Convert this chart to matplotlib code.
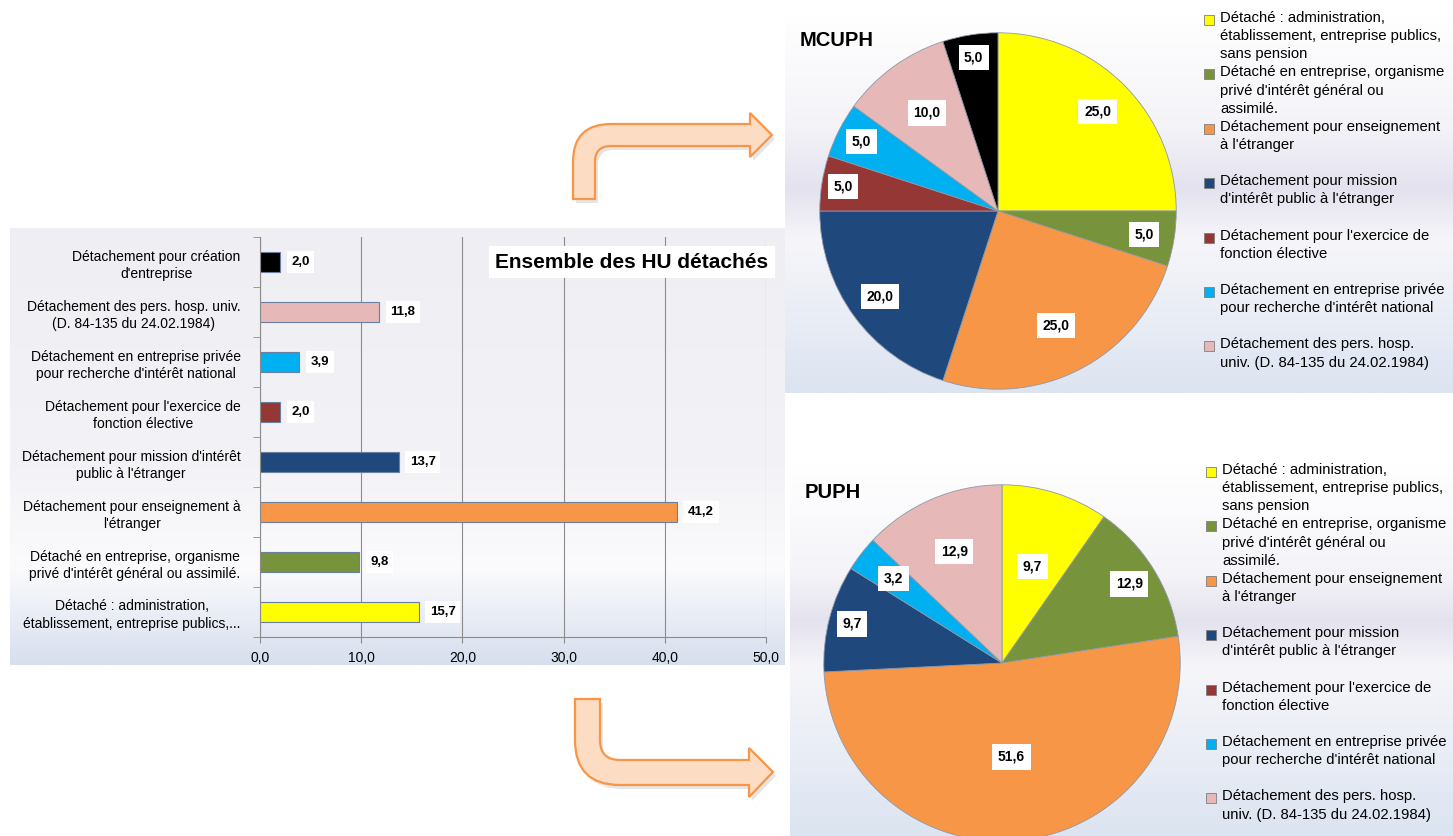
import numpy as np
import matplotlib.pyplot as plt
from matplotlib.path import Path
from matplotlib.patches import PathPatch, Rectangle
from matplotlib.colors import to_rgb

plt.rcParams['font.family'] = ['Liberation Sans Narrow', 'Liberation Sans', 'DejaVu Sans']

W, H = 1453, 836

# categories, bottom of the bar chart first (same order as the pie legends)
bar_labels = [
    "Détaché : administration,\nétablissement, entreprise publics,...",
    "Détaché en entreprise, organisme\nprivé d'intérêt général ou assimilé.",
    "Détachement pour enseignement à\nl'étranger",
    "Détachement pour mission d'intérêt\npublic à l'étranger",
    "Détachement pour l'exercice de\nfonction élective",
    "Détachement en entreprise privée\npour recherche d'intérêt national",
    "Détachement des pers. hosp. univ.\n(D. 84-135 du 24.02.1984)",
    "Détachement pour création\nd'entreprise",
]
legend_labels = [
    "Détaché : administration,\nétablissement, entreprise publics,\nsans pension",
    "Détaché en entreprise, organisme\nprivé d'intérêt général ou\nassimilé.",
    "Détachement pour enseignement\nà l'étranger",
    "Détachement pour mission\nd'intérêt public à l'étranger",
    "Détachement pour l'exercice de\nfonction élective",
    "Détachement en entreprise privée\npour recherche d'intérêt national",
    "Détachement des pers. hosp.\nuniv. (D. 84-135 du 24.02.1984)",
]
colors = ['#FFFF00', '#77933C', '#F79646', '#1F497D', '#953735', '#00B0F0', '#E6B9B8', '#000000']

ensemble = [15.7, 9.8, 41.2, 13.7, 2.0, 3.9, 11.8, 2.0]
mcuph = [25.0, 5.0, 25.0, 20.0, 5.0, 5.0, 10.0, 5.0]
puph = [9.7, 12.9, 51.6, 9.7, 0.0, 3.2, 12.9, 0.0]
x_ticks = [0, 10, 20, 30, 40, 50]


def fmt(v):
    return f"{v:.1f}".replace('.', ',')


fig = plt.figure(figsize=(14.53, 8.36), dpi=100)

# full-figure axes in pixel coordinates for backgrounds, arrows and legends
bg = fig.add_axes([0, 0, 1, 1], zorder=0)
bg.axis('off')


def panel(x0, y0, x1, y1, stops):
    pos = [s[0] for s in stops]
    cols = np.array([to_rgb(s[1]) for s in stops])
    t = np.linspace(0, 1, 256)
    img = np.stack([np.interp(t, pos, cols[:, k]) for k in range(3)], axis=-1)[:, None, :]
    bg.imshow(img, extent=(x0, x1, y1, y0), aspect='auto', interpolation='bilinear')


panel(10, 228, 785, 665, [(0, '#EEEEF3'), (0.55, '#F3F3F7'), (0.78, '#FBFBFD'), (1, '#D7DFEE')])
panel(785, 13, 1453, 393, [(0, '#FFFFFF'), (0.3, '#F4F3F8'), (0.46, '#E4E2EE'), (0.6, '#F6F6FA'), (1, '#DCE4F1')])
panel(790, 465, 1453, 836, [(0, '#FFFFFF'), (0.3, '#F4F3F8'), (0.42, '#E4E2EE'), (0.55, '#F6F6FA'), (1, '#DCE4F1')])

# bent arrows
M, L, C = Path.MOVETO, Path.LINETO, Path.CURVE3
codes = [M, L, C, C, L, L, L, L, L, L, C, C, L, Path.CLOSEPOLY]
up_arrow = [(573, 199), (573, 162), (573, 124), (611, 124), (750, 124), (750, 113), (772, 135),
            (750, 157), (750, 146), (611, 146), (595, 146), (595, 162), (595, 199), (573, 199)]
down_arrow = [(575, 699), (575, 740), (575, 785), (620, 785), (749, 785), (749, 797), (773, 772),
              (749, 748), (749, 760), (620, 760), (600, 760), (600, 740), (600, 699), (575, 699)]
for verts in (up_arrow, down_arrow):
    shadow = [(x + 3, y + 4) for x, y in verts]
    bg.add_patch(PathPatch(Path(shadow, codes), fc='#999999', ec='none', alpha=0.25))
    bg.add_patch(PathPatch(Path(verts, codes), fc='#FCDCC2', ec='#F79646', lw=1.6))

bg.set_xlim(0, W)
bg.set_ylim(H, 0)

# bar chart
axb = fig.add_axes([260 / W, (H - 637) / H, 506 / W, 400 / H], zorder=2)
axb.patch.set_alpha(0)
y = np.arange(len(ensemble))
bars = axb.barh(y, ensemble, height=0.4, color=colors, edgecolor='#6B7FA0', linewidth=0.8)
axb.set_xlim(0, 50)
axb.set_ylim(-0.5, len(ensemble) - 0.5)
axb.set_xticks(x_ticks)
axb.set_xticklabels([fmt(v) for v in x_ticks], fontsize=10)
axb.set_yticks(y)
axb.set_yticklabels(bar_labels, fontsize=10)
for lbl in axb.get_yticklabels():
    lbl.set_multialignment('center')
    lbl.set_linespacing(1.35)
axb.set_yticks(np.arange(-0.5, len(ensemble), 1), minor=True)
axb.tick_params(axis='y', which='major', length=0, pad=14)
axb.tick_params(axis='y', which='minor', length=5, color='#8C8C8C')
axb.tick_params(axis='x', length=4, color='#8C8C8C', pad=6)
axb.xaxis.grid(True, color='#8C8C8C', lw=0.8)
axb.set_axisbelow(True)
for s in ('top', 'right'):
    axb.spines[s].set_visible(False)
for s in ('left', 'bottom'):
    axb.spines[s].set_color('#8C8C8C')
axb.bar_label(bars, labels=[fmt(v) for v in ensemble], padding=8, fontsize=9.5, fontweight='bold',
              bbox=dict(boxstyle='square,pad=0.35', fc='white', ec='none'))
axb.text(0.735, 0.9375, 'Ensemble des HU détachés', transform=axb.transAxes, ha='center', va='center',
         fontsize=15, fontweight='bold', bbox=dict(boxstyle='square,pad=0.3', fc='white', ec='none'))


def draw_pie(cx, cy, r, values, title, title_xy, label_r, leg_x, leg_y0):
    ax = fig.add_axes([(cx - r) / W, (H - cy - r) / H, 2 * r / W, 2 * r / H], zorder=2)
    keep = [i for i, v in enumerate(values) if v > 0]
    vals = [values[i] for i in keep]
    cols = [colors[i] for i in keep]
    wedges, _ = ax.pie(vals, colors=cols, startangle=90, counterclock=False,
                       wedgeprops=dict(edgecolor='#8F98A8', linewidth=0.6))
    ax.set_xlim(-1.01, 1.01)
    ax.set_ylim(-1.01, 1.01)
    ax.set_aspect('equal')
    for w, v, rr in zip(wedges, vals, label_r):
        ang = np.deg2rad((w.theta1 + w.theta2) / 2)
        ax.text(rr * np.cos(ang), rr * np.sin(ang), fmt(v), ha='center', va='center',
                fontsize=10, fontweight='bold',
                bbox=dict(boxstyle='square,pad=0.4', fc='white', ec='none'))
    bg.text(title_xy[0], title_xy[1], title, ha='left', va='center', fontsize=14.5, fontweight='bold')
    for i, lab in enumerate(legend_labels):
        yc = leg_y0 + i * 54.4
        bg.add_patch(Rectangle((leg_x - 16, yc - 5), 10, 10, fc=colors[i], ec='#7F7F7F', lw=0.6))
        bg.text(leg_x, yc - 9, lab, ha='left', va='top', fontsize=10.7, linespacing=1.38)


draw_pie(998, 211, 180, mcuph, 'MCUPH', (800, 40),
         [0.79, 0.83, 0.72, 0.82, 0.88, 0.86, 0.68, 0.87], 1220, 20)
draw_pie(1002, 663, 180, puph, 'PUPH', (805, 493),
         [0.57, 0.84, 0.53, 0.87, 0.77, 0.68], 1222, 472)

fig.savefig('out.png', dpi=100)
